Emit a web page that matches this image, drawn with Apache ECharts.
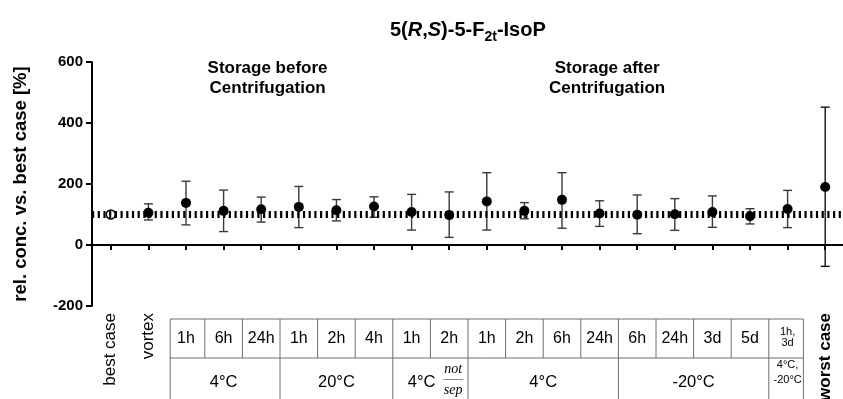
<!DOCTYPE html>
<html>
<head>
<meta charset="utf-8">
<script src="https://cdn.jsdelivr.net/npm/echarts@6/dist/echarts.min.js"></script>
<style>
  html, body { margin: 0; padding: 0; background: #fff; }
  #chart { width: 843px; height: 399px; }
</style>
</head>
<body>
<div id="chart"></div>
<script>
// Sample conditions along the x axis
const categories = ['best case', 'vortex',
  '1h', '6h', '24h',
  '1h', '2h', '4h',
  '1h', '2h',
  '1h', '2h', '6h', '24h',
  '6h', '24h', '3d', '5d',
  '1h,\n3d',
  'worst case'];

// Mean relative concentration [%] and the ends of each error bar
const means = [100, 106, 138, 112, 117, 125, 114, 126, 108, 98, 143, 112, 148, 103, 99, 101, 108, 94, 118, 190];
const upper = [100, 135, 209, 180, 157, 192, 149, 158, 166, 174, 237, 139, 237, 145, 164, 152, 161, 119, 179, 452];
const lower = [100, 82, 66, 44, 75, 57, 79, 91, 49, 25, 49, 86, 55, 61, 37, 48, 58, 69, 57, -70];

// Reference level (best case)
const referenceLevel = 100;

// Y axis ticks
const yTicks = [-200, 0, 200, 400, 600];

// Temperature groups in the lower table row (first and last category index)
const groupLabels = ['4°C', '20°C', '4°C', '4°C', '-20°C', '4°C,\n-20°C'];
const groupStart = [2, 5, 8, 10, 14, 18];
const groupEnd = [4, 7, 9, 13, 17, 18];

// Section headings
const sectionLabels = ['Storage before\nCentrifugation', 'Storage after\nCentrifugation'];
const sectionCenters = [4.17, 13.2]; // category position the heading is centred over

const chart = echarts.init(document.getElementById('chart'), null, { renderer: 'canvas' });

const FONT = 'Arial, "Liberation Sans", Helvetica, sans-serif';
const NARROW = '"Liberation Sans Narrow", "Arial Narrow", Arial, sans-serif';
const SERIF = '"Liberation Serif", "Times New Roman", serif';
const plainCats = { 'best case': 1, 'vortex': 1 };

chart.setOption({
  animation: false,
  backgroundColor: '#fff',
  title: {
    left: 385,
    top: 11,
    text: '{b|5(}{i|R}{b|,}{i|S}{b|)-5-F}{s|2t}{b|-IsoP}',
    textStyle: {
      rich: {
        b: { fontFamily: FONT, fontWeight: 'bold', fontSize: 20, color: '#000', lineHeight: 28 },
        i: { fontFamily: FONT, fontWeight: 'bold', fontStyle: 'italic', fontSize: 20, color: '#000', lineHeight: 28 },
        s: { fontFamily: FONT, fontWeight: 'bold', fontSize: 14, color: '#000', lineHeight: 15, verticalAlign: 'bottom' }
      }
    }
  },
  grid: { left: 92, right: -1, top: 62, bottom: 93, containLabel: false, outerBoundsMode: 'none' },
  xAxis: {
    type: 'category',
    data: categories,
    boundaryGap: true,
    axisLine: { show: true, lineStyle: { color: '#000', width: 2 } },
    axisTick: { show: true, alignWithLabel: true, length: 5, lineStyle: { color: '#000', width: 2 } },
    axisLabel: {
      interval: 0,
      rotate: 90,
      margin: 7,
      formatter: function (v) {
        if (plainCats[v]) return '{n|' + v + '}';
        if (v === 'worst case') return '{w|' + v + '}';
        return '';
      },
      rich: {
        n: { fontFamily: FONT, fontSize: 17, color: '#000' },
        w: { fontFamily: FONT, fontSize: 17, fontWeight: 'bold', color: '#000' }
      }
    },
    splitLine: { show: false }
  },
  yAxis: {
    type: 'value',
    min: yTicks[0],
    max: yTicks[yTicks.length - 1],
    interval: 200,
    axisLine: { show: true, lineStyle: { color: '#000', width: 2 } },
    axisTick: { show: true, length: 6, lineStyle: { color: '#000', width: 2 } },
    axisLabel: { fontFamily: FONT, fontSize: 15, fontWeight: 'bold', color: '#000', margin: 9 },
    splitLine: { show: false }
  },
  series: [
    {
      // dotted reference line at the best-case level
      type: 'line',
      data: [],
      z: 1,
      markLine: {
        silent: true,
        symbol: 'none',
        label: { show: false },
        lineStyle: { color: '#000', width: 7, type: [2.2, 3.5], opacity: 1 },
        data: [{ yAxis: referenceLevel }]
      }
    },
    {
      type: 'custom',
      z: 3,
      data: categories.map((c, i) => [i, upper[i], lower[i]]),
      renderItem: function (params, api) {
        const x = api.value(0);
        const hi = api.value(1);
        const lo = api.value(2);
        if (hi === lo) return null;
        const pHi = api.coord([x, hi]);
        const pLo = api.coord([x, lo]);
        const w = 4.5;
        const st = { stroke: x === categories.length - 1 ? '#111' : '#3a3a3a', lineWidth: 1.4 };
        return {
          type: 'group',
          children: [
            { type: 'line', shape: { x1: pHi[0], y1: pHi[1], x2: pLo[0], y2: pLo[1] }, style: st },
            { type: 'line', shape: { x1: pHi[0] - w, y1: pHi[1], x2: pHi[0] + w, y2: pHi[1] }, style: st },
            { type: 'line', shape: { x1: pLo[0] - w, y1: pLo[1], x2: pLo[0] + w, y2: pLo[1] }, style: st }
          ]
        };
      }
    },
    {
      type: 'scatter',
      z: 4,
      symbol: 'circle',
      symbolSize: 10,
      itemStyle: { color: '#000', opacity: 1 },
      emphasis: { disabled: true },
      data: means.map((v, i) => i === 0
        ? { value: [i, v], itemStyle: { color: '#fff', borderColor: '#000', borderWidth: 1.5, opacity: 1 }, symbolSize: 9 }
        : [i, v])
    }
  ]
});

// Table of storage conditions below the axis, laid out on the category positions
function buildTable() {
  const px = i => chart.convertToPixel({ xAxisIndex: 0 }, i);
  const step = px(1) - px(0);
  const border = i => px(i) + step / 2; // boundary to the right of category i
  const yTop = 319, yMid = 358, yBot = 402;
  const left = px(2) - step / 2 + 3;
  const right = px(18) + step / 2 - 3;
  const lineStyle = { stroke: '#6e6e6e', lineWidth: 1 };
  const els = [];

  els.push({ type: 'line', shape: { x1: left, y1: yTop, x2: right, y2: yTop }, style: lineStyle });
  els.push({ type: 'line', shape: { x1: left, y1: yMid, x2: right, y2: yMid }, style: lineStyle });
  els.push({ type: 'line', shape: { x1: left, y1: yTop, x2: left, y2: yBot }, style: lineStyle });
  els.push({ type: 'line', shape: { x1: right, y1: yTop, x2: right, y2: yBot }, style: lineStyle });

  // upper row: one cell per time point
  for (let i = 2; i <= 18; i++) {
    if (i < 18) {
      els.push({ type: 'line', shape: { x1: border(i), y1: yTop, x2: border(i), y2: yMid }, style: lineStyle });
    }
    const small = categories[i].indexOf('\n') >= 0;
    els.push({
      type: 'text',
      style: {
        x: px(i), y: small ? 337 : 339,
        text: categories[i],
        align: 'center', verticalAlign: 'middle',
        fontFamily: small ? NARROW : FONT, fontSize: small ? 11 : 16, lineHeight: small ? 11 : 18,
        fill: '#000'
      }
    });
  }

  // lower row: temperature groups
  for (let g = 0; g < groupLabels.length; g++) {
    const a = groupStart[g], b = groupEnd[g];
    if (b < 18) {
      els.push({ type: 'line', shape: { x1: border(b), y1: yMid, x2: border(b), y2: yBot }, style: lineStyle });
    }
    const small = groupLabels[g].indexOf('\n') >= 0;
    const cx = (a === 8) ? px(8) + 10 : (px(a) + px(b)) / 2;
    els.push({
      type: 'text',
      style: {
        x: cx, y: small ? 372.5 : 382,
        text: groupLabels[g],
        align: 'center', verticalAlign: 'middle',
        fontFamily: small ? NARROW : FONT, fontSize: small ? 11 : 16.5, lineHeight: small ? 15 : 18,
        fill: '#000'
      }
    });
  }

  // "not sep" fraction next to the 4 °C label
  const fx = px(9) + 4;
  els.push({ type: 'text', style: { x: fx, y: 369, text: 'not', align: 'center', verticalAlign: 'middle', fontFamily: SERIF, fontStyle: 'italic', fontSize: 14, fill: '#000' } });
  els.push({ type: 'line', shape: { x1: fx - 10, y1: 379.5, x2: fx + 10, y2: 379.5 }, style: { stroke: '#888', lineWidth: 1 } });
  els.push({ type: 'text', style: { x: fx, y: 390, text: 'sep', align: 'center', verticalAlign: 'middle', fontFamily: SERIF, fontStyle: 'italic', fontSize: 14, fill: '#000' } });

  // section headings over the plot
  for (let k = 0; k < sectionLabels.length; k++) {
    const c = sectionCenters[k];
    const x = px(Math.floor(c)) + (c - Math.floor(c)) * step;
    els.push({
      type: 'text',
      style: {
        x: x, y: 78,
        text: sectionLabels[k],
        align: 'center', verticalAlign: 'middle',
        fontFamily: FONT, fontWeight: 'bold', fontSize: 17, lineHeight: 20,
        fill: '#000'
      }
    });
  }

  // y axis title
  els.push({
    type: 'text',
    x: 21, y: 184,
    rotation: Math.PI / 2,
    style: {
      x: 0, y: 0,
      text: 'rel. conc. vs. best case [%]',
      align: 'center', verticalAlign: 'middle',
      fontFamily: FONT, fontWeight: 'bold', fontSize: 18.5,
      fill: '#000'
    }
  });

  chart.setOption({ graphic: els });
}
buildTable();
</script>
</body>
</html>
